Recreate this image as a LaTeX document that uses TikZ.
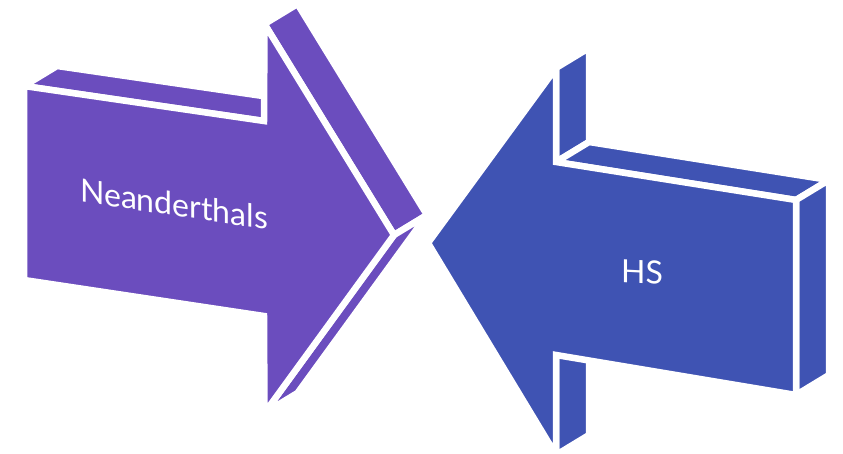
\documentclass[tikz,border=0pt]{standalone}
\usepackage{fontspec}
\setmainfont{Lato}
\definecolor{neanderPurple}{RGB}{107,77,190}
\definecolor{hsBlue}{RGB}{63,83,179}

\begin{document}
\begin{tikzpicture}[x=1pt, y=-1pt]
    \tikzstyle{face} = [draw=white, line width=6.5pt, line join=miter]
    \tikzstyle{extr} = [shift={(33,-20)}]
    \tikzstyle{arrowtext} = [text=white, font=\fontsize{32}{38}\selectfont]

    \useasboundingbox (0,0) rectangle (843,454);

    % Neanderthals arrow (points right)
    \coordinate (n1) at (24,86);
    \coordinate (n2) at (264,121);
    \coordinate (n3) at (264.5,24);
    \coordinate (n4) at (394,235);
    \coordinate (n5) at (264.5,413);
    \coordinate (n6) at (264,316);
    \coordinate (n7) at (24,280);
    \filldraw[face, fill=neanderPurple] (n1) -- (n2) -- ([extr]n2) -- ([extr]n1) -- cycle;
    \filldraw[face, fill=neanderPurple] (n3) -- (n4) -- ([extr]n4) -- ([extr]n3) -- cycle;
    \filldraw[face, fill=neanderPurple] (n4) -- (n5) -- ([extr]n5) -- ([extr]n4) -- cycle;
    \filldraw[face, fill=neanderPurple] (n1) -- (n2) -- (n3) -- (n4) -- (n5) -- (n6) -- (n7) -- cycle;
    \node[arrowtext, yslant=-0.15] (neander) at (174,204) {Neanderthals};

    % HS arrow (points left)
    \coordinate (h1) at (428,243);
    \coordinate (h2) at (556,68);
    \coordinate (h3) at (556,162);
    \coordinate (h4) at (796,200);
    \coordinate (h5) at (796,395);
    \coordinate (h6) at (556,355);
    \coordinate (h7) at (556,455);
    \filldraw[face, fill=hsBlue] (h2) -- (h3) -- ([extr]h3) -- ([extr]h2) -- cycle;
    \filldraw[face, fill=hsBlue] (h3) -- (h4) -- ([extr]h4) -- ([extr]h3) -- cycle;
    \filldraw[face, fill=hsBlue] (h4) -- (h5) -- ([extr]h5) -- ([extr]h4) -- cycle;
    \filldraw[face, fill=hsBlue] (h6) -- (h7) -- ([extr]h7) -- ([extr]h6) -- cycle;
    \filldraw[face, fill=hsBlue] (h1) -- (h2) -- (h3) -- (h4) -- (h5) -- (h6) -- (h7) -- cycle;
    \node[arrowtext, yslant=-0.05] (hs) at (642,272) {HS};
\end{tikzpicture}
\end{document}
